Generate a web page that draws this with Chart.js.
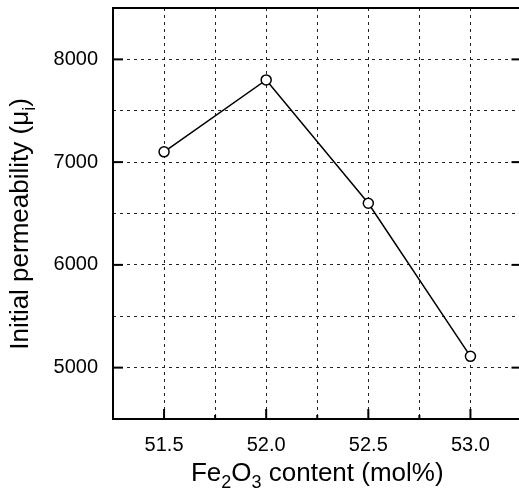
<!DOCTYPE html>
<html>
<head>
<meta charset="utf-8">
<script src="https://cdn.jsdelivr.net/npm/chart.js@4.4.0/dist/chart.umd.min.js"></script>
<style>
  html, body { margin: 0; padding: 0; background: #fff; overflow: hidden; }
  #wrap { width: 519px; height: 493px; overflow: hidden; }
</style>
</head>
<body>
<div id="wrap"><canvas id="chart" width="528" height="493"></canvas></div>
<script>
// Fe2O3 content (mol%) and initial permeability
const fe2o3 = [51.5, 52.0, 52.5, 53.0];
const permeability = [7100, 7800, 6600, 5110];

const xRange = [51.25, 53.25];
const yRange = [4500, 8500];

const FONT = '"Liberation Sans", Arial, Helvetica, sans-serif';

function isHalf(v) { return Math.abs(v * 2 - Math.round(v * 2)) < 1e-6; }
function isThousand(v) { return Math.abs(v / 1000 - Math.round(v / 1000)) < 1e-6; }

// draw text made of parts, some subscripted, centred on (0,0) horizontally
function drawRich(ctx, parts, size) {
  const subSize = Math.round(size * 0.7);
  let total = 0;
  parts.forEach(p => {
    ctx.font = (p.sub ? subSize : size) + 'px ' + FONT;
    p.w = ctx.measureText(p.t).width;
    total += p.w;
  });
  let cx = -total / 2;
  parts.forEach(p => {
    ctx.font = (p.sub ? subSize : size) + 'px ' + FONT;
    ctx.fillText(p.t, cx, p.sub ? size * 0.28 : 0);
    cx += p.w;
  });
}

const framePlugin = {
  id: 'frame',
  afterDraw(chart) {
    const { ctx, chartArea: a, scales: { x, y } } = chart;
    ctx.save();
    ctx.strokeStyle = '#000';
    ctx.lineWidth = 2;
    ctx.strokeRect(a.left, a.top, a.right - a.left, a.bottom - a.top);

    const seg = (x1, y1, x2, y2) => { ctx.beginPath(); ctx.moveTo(x1, y1); ctx.lineTo(x2, y2); ctx.stroke(); };
    y.ticks.forEach(t => {
      if (!isThousand(t.value)) return;
      const py = y.getPixelForValue(t.value);
      seg(a.left, py, a.left + 10, py);
      seg(a.right - 10, py, a.right, py);
    });
    x.ticks.forEach(t => {
      const px = x.getPixelForValue(t.value);
      seg(px, a.bottom, px, a.bottom - (isHalf(t.value) ? 10 : 4));
    });

    // axis titles
    ctx.fillStyle = '#000';
    ctx.textBaseline = 'alphabetic';
    ctx.textAlign = 'left';
    ctx.save();
    ctx.translate((a.left + a.right) / 2, 481);
    drawRich(ctx, [{ t: 'Fe' }, { t: '2', sub: true }, { t: 'O' }, { t: '3', sub: true }, { t: ' content (mol%)' }], 26);
    ctx.restore();
    ctx.save();
    ctx.translate(28, 224);
    ctx.rotate(-Math.PI / 2);
    drawRich(ctx, [{ t: 'Initial permeability (\u03bc' }, { t: 'i', sub: true }, { t: ')' }], 26);
    ctx.restore();
    ctx.restore();
  }
};

const data = fe2o3.map((v, i) => ({ x: v, y: permeability[i] }));

new Chart(document.getElementById('chart'), {
  type: 'line',
  data: {
    datasets: [{
      data: data,
      borderColor: '#000',
      borderWidth: 1.5,
      pointRadius: 5,
      pointHoverRadius: 5,
      pointBorderWidth: 1.5,
      pointBorderColor: '#000',
      pointBackgroundColor: '#fff',
      tension: 0
    }]
  },
  options: {
    responsive: false,
    animation: false,
    devicePixelRatio: 1,
    layout: { padding: { top: 8, right: 3, left: 0, bottom: 0 } },
    plugins: { legend: { display: false }, tooltip: { enabled: false } },
    scales: {
      x: {
        type: 'linear',
        min: xRange[0],
        max: xRange[1],
        afterFit: s => { s.height = 74; s.paddingLeft = 0; s.paddingRight = 0; },
        grid: { color: '#222', lineWidth: 1, drawTicks: false },
        border: { display: false, dash: [3, 4] },
        ticks: {
          stepSize: 0.25,
          autoSkip: false,
          maxRotation: 0,
          padding: 14,
          color: '#000',
          font: { family: FONT, size: 20 },
          callback: v => isHalf(v) && v > xRange[0] && v < xRange[1] ? v.toFixed(1) : ''
        }
      },
      y: {
        min: yRange[0],
        max: yRange[1],
        afterFit: s => { s.width = 113; s.paddingTop = 0; s.paddingBottom = 0; },
        grid: { color: '#222', lineWidth: 1, drawTicks: false },
        border: { display: false, dash: [3, 4] },
        ticks: {
          stepSize: 500,
          autoSkip: false,
          padding: 15,
          color: '#000',
          font: { family: FONT, size: 20 },
          callback: v => isThousand(v) && v > yRange[0] && v < yRange[1] ? String(v) : ''
        }
      }
    }
  },
  plugins: [framePlugin]
});
</script>
</body>
</html>
